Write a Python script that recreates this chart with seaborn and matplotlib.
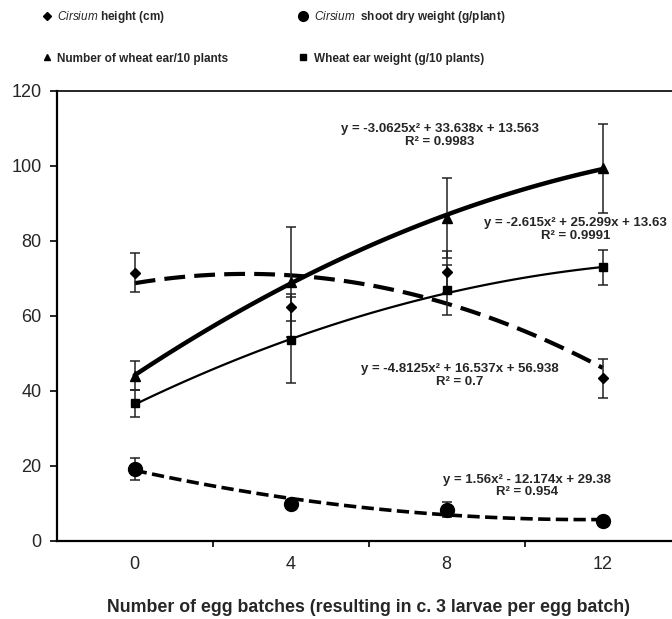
import numpy as np
import pandas as pd
import matplotlib
matplotlib.use('Agg')
import seaborn as sns
import matplotlib.pyplot as plt
from matplotlib.lines import Line2D

# egg batches on the x axis
batches = [0, 4, 8, 12]

# Cirsium height (cm)
height_mean = [71.5, 62.3, 71.6, 43.3]
height_err = [5.3, 3.6, 5.6, 5.2]
height_coef = [-4.8125, 16.537, 56.938]
height_eq = "y = -4.8125x\u00b2 + 16.537x + 56.938\nR\u00b2 = 0.7"

# Cirsium shoot dry weight (g/plant)
shoot_mean = [19.2, 9.9, 8.3, 5.3]
shoot_err = [2.9, 1.0, 2.1, 0.8]
shoot_coef = [1.56, -12.174, 29.38]
shoot_eq = "y = 1.56x\u00b2 - 12.174x + 29.38\nR\u00b2 = 0.954"

# Number of wheat ear/10 plants
earnum_mean = [44.0, 69.0, 86.0, 99.3]
earnum_err = [3.8, 14.6, 10.6, 11.9]
earnum_coef = [-3.0625, 33.638, 13.563]
earnum_eq = "y = -3.0625x\u00b2 + 33.638x + 13.563\nR\u00b2 = 0.9983"

# Wheat ear weight (g/10 plants)
earwt_mean = [36.6, 53.5, 66.9, 72.9]
earwt_err = [3.6, 11.5, 6.7, 4.7]
earwt_coef = [-2.615, 25.299, 13.63]
earwt_eq = "y = -2.615x\u00b2 + 25.299x + 13.63\nR\u00b2 = 0.9991"

sns.set_style("white")
plt.rcParams['font.family'] = ['Liberation Sans', 'DejaVu Sans']
plt.rcParams['mathtext.fontset'] = 'custom'
plt.rcParams['mathtext.it'] = 'Liberation Sans:italic'
plt.rcParams['mathtext.rm'] = 'Liberation Sans'

fig = plt.figure(figsize=(6.72, 6.19), dpi=100)
ax = fig.add_axes([56.7 / 672, 78.3 / 619, 624 / 672, 450 / 619])

# excel trendlines use the point index (1..4) as x
def trend(coef):
    xs = np.linspace(0, 12, 120)
    t = xs / 4 + 1
    return pd.DataFrame({'x': xs, 'y': coef[0] * t**2 + coef[1] * t + coef[2]})

sns.lineplot(data=trend(earnum_coef), x='x', y='y', ax=ax, color='black', lw=3.2)
sns.lineplot(data=trend(earwt_coef), x='x', y='y', ax=ax, color='black', lw=1.6)
sns.lineplot(data=trend(height_coef), x='x', y='y', ax=ax, color='black', lw=3.0,
             linestyle=(0, (5, 2.2)))
sns.lineplot(data=trend(shoot_coef), x='x', y='y', ax=ax, color='black', lw=2.6,
             linestyle=(0, (3.4, 1.5)))

ekw = dict(ecolor='#222222', elinewidth=1.1, capsize=3.5, capthick=1.1,
           color='black', linestyle='none', zorder=5)
ax.errorbar(batches, height_mean, yerr=height_err, marker='D', markersize=5, **ekw)
ax.errorbar(batches, shoot_mean, yerr=shoot_err, marker='o', markersize=10, **ekw)
ax.errorbar(batches, earnum_mean, yerr=earnum_err, marker='^', markersize=6.5, **ekw)
ax.errorbar(batches, earwt_mean, yerr=earwt_err, marker='s', markersize=5.5, **ekw)

# equation labels
tkw = dict(ha='center', va='center', fontsize=9.5, fontweight='bold',
           linespacing=1.05)
ax.text(7.83, 108.1, earnum_eq, **tkw)
ax.text(11.30, 83.0, earwt_eq, **tkw)
ax.text(8.34, 44.0, height_eq, **tkw)
ax.text(10.07, 14.6, shoot_eq, **tkw)

ax.set_xlim(-2, 14)
ax.set_ylim(0, 120)
ax.set_yticks(np.arange(0, 121, 20))
ax.set_xticks(batches)
ax.set_xticks([2, 6, 10], minor=True)
ax.tick_params(axis='x', which='major', length=0, pad=11, labelsize=13)
ax.tick_params(axis='x', which='minor', length=4, width=1.2, direction='out',
               bottom=True, color='black')
ax.tick_params(axis='y', length=5, width=1.2, direction='out', left=True,
               pad=6, labelsize=13, color='black')
ax.set_xlabel("Number of egg batches (resulting in c. 3 larvae per egg batch)",
              fontsize=12.8, fontweight='bold', labelpad=19)
ax.set_ylabel('')
for side in ['left', 'bottom']:
    ax.spines[side].set_linewidth(1.6)
    ax.spines[side].set_color('black')
ax.spines['top'].set_linewidth(1.2)
ax.spines['top'].set_color('black')
ax.spines['right'].set_visible(False)

handles = [
    Line2D([], [], color='black', marker='D', markersize=4, linestyle='none'),
    Line2D([], [], color='black', marker='^', markersize=5, linestyle='none'),
    Line2D([], [], color='black', marker='o', markersize=7, linestyle='none'),
    Line2D([], [], color='black', marker='s', markersize=4, linestyle='none'),
]
labels = ["$\\it{Cirsium}$ height (cm)", "Number of wheat ear/10 plants",
          "$\\it{Cirsium}$  shoot dry weight (g/plant)", "Wheat ear weight (g/10 plants)"]
fig.legend(handles, labels, ncol=2, loc='upper left', bbox_to_anchor=(0.045, 1.002),
           frameon=False, prop={'size': 8.5, 'weight': 'bold'}, handlelength=1.0,
           handletextpad=0.4, columnspacing=5.8, labelspacing=2.3)

fig.savefig('out.png', dpi=100)
